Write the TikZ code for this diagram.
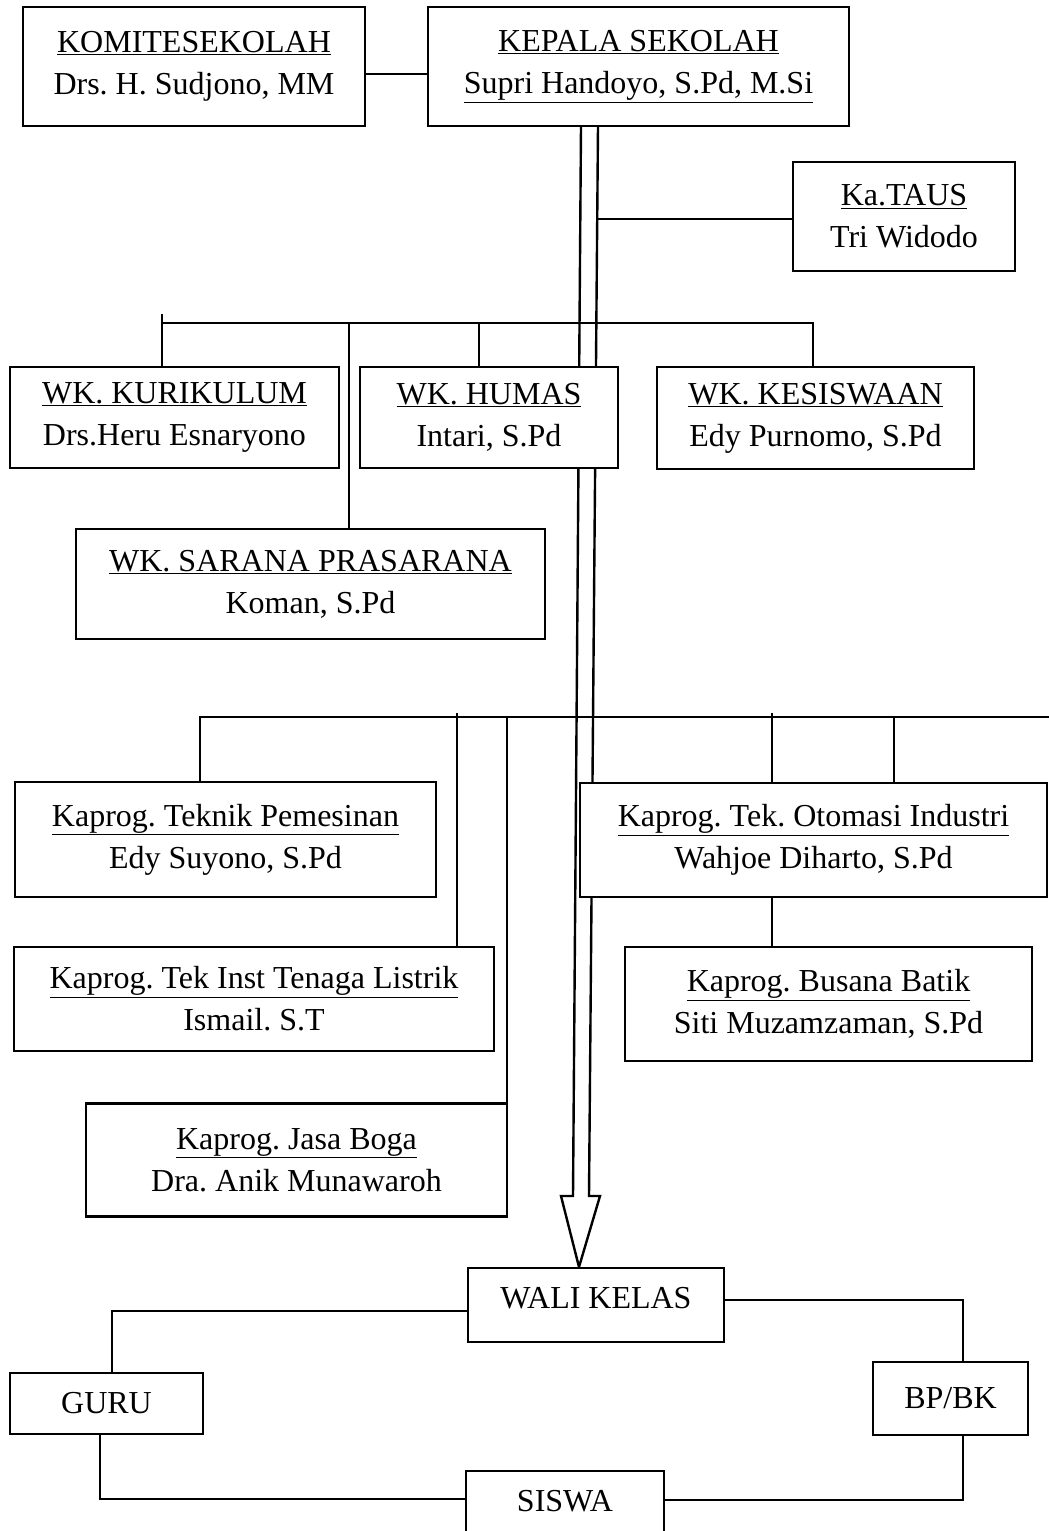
\documentclass[tikz,border=0pt]{standalone}
\usepackage{fontspec}
\setmainfont{Liberation Serif}
\frenchspacing
\begin{document}
\begin{tikzpicture}[x=1pt,y=-1pt,
  ln/.style={line width=2.4pt, line join=miter},
  box/.style={draw, line width=2.4pt, fill=white, inner sep=0pt, outer sep=0pt, align=center, font=\fontsize{32}{42}\selectfont\frenchspacing},
  sbox/.style={draw, line width=2.4pt, fill=white, inner sep=0pt, outer sep=0pt, font=\fontsize{32}{42}\selectfont},
]
\useasboundingbox (0,0) rectangle (1049,1531);
\clip (0,0) rectangle (1049,1531);

% double arrow from Kepala Sekolah to Wali Kelas
\draw[ln] (581,126) -- (573,1196) -- (561,1196) -- (579,1267) -- (600,1196) -- (589,1196) -- (598,126);

% bus coordinates
\coordinate (b1a) at (162,314);
\coordinate (b1b) at (813,323);
\coordinate (b1s) at (349,323);
\coordinate (b1h) at (479,323);
\coordinate (b2a) at (200,717);
\coordinate (b2e) at (1049,717);
\coordinate (b2l) at (457,713);
\coordinate (b2j) at (507,717);
\coordinate (b2o1) at (772,713);
\coordinate (b2o2) at (894,717);
\coordinate (ax) at (598,0);

% nodes
\node[box, minimum width=342, minimum height=119] (kom) at (194,66.5) {\underline{KOMITESEKOLAH}\\Drs. H. Sudjono, MM};
\node[box, minimum width=421, minimum height=119] (kep) at (638.5,66.5) {\underline{KEPALA SEKOLAH}\\\underline{Supri Handoyo, S.Pd, M.Si}};
\node[box, minimum width=222, minimum height=109] (taus) at (904,216.5) {\underline{Ka.TAUS}\\Tri Widodo};
\node[box, minimum width=329, minimum height=101] (kur) at (174.5,417.5) {\underline{WK. KURIKULUM}\\Drs.Heru Esnaryono};
\node[box, minimum width=258, minimum height=101] (hum) at (489,417.5) {\underline{WK. HUMAS}\\Intari, S.Pd};
\node[box, minimum width=317, minimum height=102] (kes) at (815.5,418) {\underline{WK. KESISWAAN}\\Edy Purnomo, S.Pd};
\node[box, minimum width=469, minimum height=110] (sar) at (310.5,584) {\underline{WK. SARANA PRASARANA}\\Koman, S.Pd};
\node[box, minimum width=421, minimum height=115] (tp) at (225.5,839.5) {\underline{Kaprog. Teknik Pemesinan}\\Edy Suyono, S.Pd};
\node[box, minimum width=467, minimum height=114] (oto) at (813.5,840) {\underline{Kaprog. Tek. Otomasi Industri}\\Wahjoe Diharto, S.Pd};
\node[box, minimum width=480, minimum height=104] (lis) at (254,999) {\underline{Kaprog. Tek Inst Tenaga Listrik}\\Ismail. S.T};
\node[box, minimum width=407, minimum height=114] (bat) at (828.5,1004) {\underline{Kaprog. Busana Batik}\\Siti Muzamzaman, S.Pd};
\node[box, minimum width=421, minimum height=113] (jb) at (296.5,1160) {\underline{Kaprog. Jasa Boga}\\Dra. Anik Munawaroh};
\node[sbox, minimum width=256, minimum height=74, text height=21pt, text depth=14pt] (wali) at (596,1305) {WALI KELAS};
\node[sbox, minimum width=193, minimum height=61] (guru) at (106.5,1403.5) {GURU};
\node[sbox, minimum width=155, minimum height=73] (bpbk) at (950.5,1398.5) {BP/BK};
\node[sbox, minimum width=198, minimum height=74, text height=21pt, text depth=14pt] (siswa) at (565,1508) {SISWA};

% connectors
\draw[ln] ([yshift=-7.5pt]kom.east) -- ([yshift=-7.5pt]kep.west);
\draw[ln] ([yshift=-2.5pt]taus.west) -- ([yshift=-2.5pt]taus.west -| ax);

\draw[ln] (b1a) -- (b1a |- kur.north);
\draw[ln] (b1a |- b1b) -- (b1b) -- (b1b |- kes.north);
\draw[ln] (b1s) -- (b1s |- sar.north);
\draw[ln] (b1h) -- (b1h |- hum.north);

\draw[ln] (b2a |- tp.north) -- (b2a) -- (b2e);
\draw[ln] (b2l) -- (b2l |- lis.north);
\draw[ln] (b2j) -- (b2j |- jb.north);
\draw[ln] (b2o1) -- (b2o1 |- oto.north);
\draw[ln] (b2o2) -- (b2o2 |- oto.north);
\draw[ln] (oto.south -| b2o1) -- (bat.north -| b2o1);

\draw[ln] ([yshift=-6pt]wali.west) -| ([xshift=5.5pt]guru.north);
\draw[ln] ([yshift=5pt]wali.east) -| ([xshift=12.5pt]bpbk.north);
\draw[ln] ([xshift=-6.5pt]guru.south) |- ([yshift=9pt]siswa.west);
\draw[ln] ([xshift=12.5pt]bpbk.south) |- ([yshift=8pt]siswa.east);
\end{tikzpicture}
\end{document}
